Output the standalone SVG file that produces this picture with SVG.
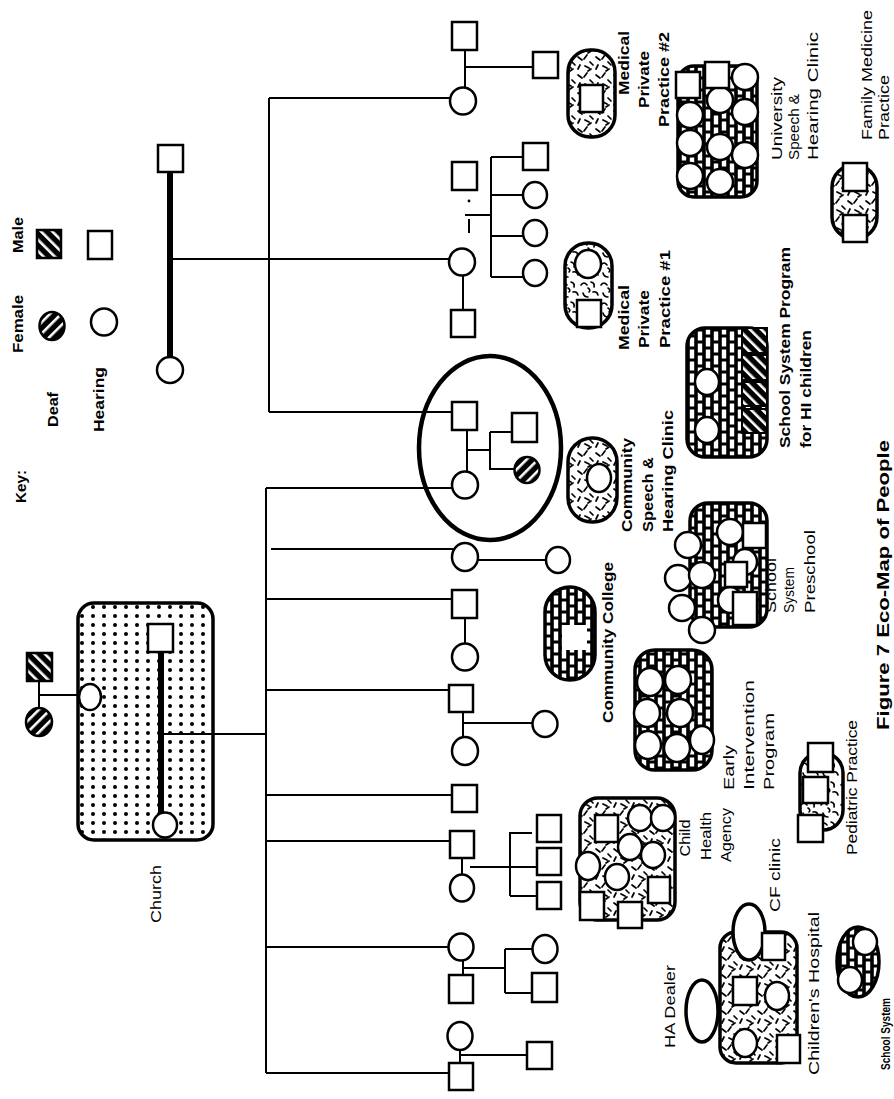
<svg xmlns="http://www.w3.org/2000/svg" width="894" height="1099" viewBox="0 0 894 1099">
<style>
.ln{stroke:#000;stroke-width:2;fill:none}
.th{stroke:#000;stroke-width:6;fill:none}
.p{fill:#fff;stroke:#000;stroke-width:2.5}
.blob{stroke:#000;stroke-width:3.5}
.t{font-family:"Liberation Sans",Arial,sans-serif;font-size:14px;fill:#000}
.b{font-weight:bold}
</style>
<defs>
<pattern id="dots" width="11" height="9" patternUnits="userSpaceOnUse"><rect width="11" height="9" fill="#fff"/><circle cx="5" cy="4" r="2" fill="#000"/></pattern>
<pattern id="brick" width="16" height="24" patternUnits="userSpaceOnUse"><rect width="16" height="24" fill="#000"/><g fill="#fff"><rect x="1.8" y="1.5" width="4.4" height="9"/><rect x="1.8" y="13.5" width="4.4" height="9"/><rect x="9.8" y="-4.5" width="4.4" height="9"/><rect x="9.8" y="7.5" width="4.4" height="9"/><rect x="9.8" y="19.5" width="4.4" height="9"/></g></pattern>
<pattern id="dash" width="18" height="18" patternUnits="userSpaceOnUse"><rect width="18" height="18" fill="#fff"/><path d="M2 3l4 3M11 1l-3 4M14 8l3 3M4 11l-2 4M9 12l4 2M15 15l-3 2" stroke="#000" stroke-width="1.7" stroke-linecap="round"/></pattern>
<pattern id="wavy" width="20" height="20" patternUnits="userSpaceOnUse"><rect width="20" height="20" fill="#fff"/><path d="M1 5q3-4 6 0M11 2q4 1 3 5M13 12q4-1 5 3M3 13q1 4 5 4M8 8q3 2 1 4" stroke="#000" stroke-width="1.6" fill="none" stroke-linecap="round"/></pattern>
<pattern id="hs" width="8" height="8" patternUnits="userSpaceOnUse" patternTransform="rotate(-45)"><rect width="8" height="8" fill="#000"/><rect width="2.6" height="8" fill="#fff"/></pattern>
<pattern id="hc" width="8" height="8" patternUnits="userSpaceOnUse" patternTransform="rotate(45)"><rect width="8" height="8" fill="#000"/><rect width="2.6" height="8" fill="#fff"/></pattern>
</defs>
<rect width="894" height="1099" fill="#fff"/>

<g id="connectors">
<line class="th" x1="170" y1="172" x2="170" y2="357"/>
<line class="ln" x1="170" y1="259" x2="450" y2="259"/>
<line class="ln" x1="269" y1="98" x2="269" y2="412"/>
<line class="ln" x1="269" y1="98" x2="450" y2="98"/>
<line class="ln" x1="269" y1="412" x2="452" y2="412"/>
<line class="ln" x1="465" y1="50" x2="465" y2="88"/>
<line class="ln" x1="465" y1="67" x2="533" y2="67"/>
<line class="ln" x1="463" y1="275" x2="463" y2="310"/>
<circle cx="469" cy="201" r="1.4" fill="#000"/>
<line class="ln" x1="469" y1="219" x2="469" y2="233"/>
<line class="ln" x1="465" y1="215" x2="491" y2="215"/>
<line class="ln" x1="491" y1="157" x2="491" y2="277"/>
<line class="ln" x1="491" y1="157" x2="523" y2="157"/>
<line class="ln" x1="491" y1="195" x2="523" y2="195"/>
<line class="ln" x1="491" y1="236" x2="523" y2="236"/>
<line class="ln" x1="491" y1="277" x2="523" y2="277"/>
<line class="ln" x1="467" y1="430" x2="467" y2="472"/>
<line class="ln" x1="467" y1="450" x2="490" y2="450"/>
<line class="ln" x1="490" y1="432" x2="490" y2="470"/>
<line class="ln" x1="490" y1="432" x2="512" y2="432"/>
<line class="ln" x1="490" y1="469" x2="514" y2="469"/>
<line class="ln" x1="266" y1="488" x2="266" y2="1073"/>
<line class="ln" x1="266" y1="488" x2="452" y2="488"/>
<line class="ln" x1="271" y1="549" x2="453" y2="549"/>
<line class="ln" x1="478" y1="560" x2="546" y2="560"/>
<line class="ln" x1="266" y1="599" x2="452" y2="599"/>
<line class="ln" x1="465" y1="618" x2="465" y2="644"/>
<line class="ln" x1="266" y1="690" x2="449" y2="690"/>
<line class="ln" x1="463" y1="712" x2="463" y2="738"/>
<line class="ln" x1="463" y1="723" x2="532" y2="723"/>
<line class="ln" x1="161" y1="734" x2="266" y2="734"/>
<line class="ln" x1="266" y1="795" x2="452" y2="795"/>
<line class="ln" x1="266" y1="841" x2="450" y2="841"/>
<line class="ln" x1="462" y1="858" x2="462" y2="875"/>
<line class="ln" x1="470" y1="867" x2="510" y2="867"/>
<line class="ln" x1="510" y1="833" x2="510" y2="896"/>
<line class="ln" x1="509" y1="833" x2="532" y2="833"/>
<line class="ln" x1="510" y1="867" x2="537" y2="867"/>
<line class="ln" x1="510" y1="896" x2="537" y2="896"/>
<line class="ln" x1="266" y1="947" x2="448" y2="947"/>
<line class="ln" x1="463" y1="960" x2="463" y2="975"/>
<line class="ln" x1="463" y1="968" x2="505" y2="968"/>
<line class="ln" x1="505" y1="949" x2="505" y2="993"/>
<line class="ln" x1="505" y1="949" x2="532" y2="949"/>
<line class="ln" x1="505" y1="993" x2="532" y2="993"/>
<line class="ln" x1="266" y1="1073" x2="449" y2="1073"/>
<line class="ln" x1="460" y1="1049" x2="460" y2="1063"/>
<line class="ln" x1="460" y1="1055" x2="527" y2="1055"/>
<line class="ln" x1="39" y1="681" x2="39" y2="709"/>
<line class="ln" x1="39" y1="695" x2="79" y2="695"/>
</g>

<g id="key">
<text class="t b" transform="translate(26,503) rotate(-90)" textLength="33" lengthAdjust="spacingAndGlyphs">Key:</text>
<text class="t b" transform="translate(58,427) rotate(-90)" textLength="35" lengthAdjust="spacingAndGlyphs">Deaf</text>
<text class="t b" transform="translate(104,432) rotate(-90)" textLength="65" lengthAdjust="spacingAndGlyphs">Hearing</text>
<text class="t b" transform="translate(23,353) rotate(-90)" textLength="58" lengthAdjust="spacingAndGlyphs">Female</text>
<text class="t b" transform="translate(23,253) rotate(-90)" textLength="36" lengthAdjust="spacingAndGlyphs">Male</text>
<rect x="37" y="230" width="24" height="28" fill="url(#hs)" stroke="#000" stroke-width="2.5"/>
<rect class="p" x="88" y="231" width="24" height="28"/>
<ellipse cx="52" cy="326" rx="12.5" ry="14" fill="url(#hc)" stroke="#000" stroke-width="2.5"/>
<ellipse class="p" cx="104" cy="322" rx="13" ry="13.5"/>
</g>

<g id="top-couple">
<rect class="p" x="158" y="145" width="25" height="27"/>
<ellipse class="p" cx="170" cy="370" rx="13" ry="13"/>
</g>
<g id="family-a1">
<ellipse class="p" cx="463" cy="101" rx="13" ry="13.5"/>
<rect class="p" x="452" y="22" width="25" height="28"/>
<rect class="p" x="533" y="52" width="25" height="26"/>
</g>
<g id="family-a2">
<ellipse class="p" cx="462" cy="262" rx="13" ry="13.5"/>
<rect class="p" x="452" y="162" width="25" height="28"/>
<rect class="p" x="451" y="310" width="24" height="27"/>
<rect class="p" x="523" y="143" width="25" height="27"/>
<ellipse class="p" cx="535" cy="195" rx="12" ry="13"/>
<ellipse class="p" cx="535" cy="233" rx="12" ry="13"/>
<ellipse class="p" cx="535" cy="273" rx="12" ry="13"/>
</g>
<g id="family-focus">
<ellipse cx="490" cy="448" rx="71" ry="92" fill="none" stroke="#000" stroke-width="4.5"/>
<rect class="p" x="452" y="402" width="25" height="28"/>
<ellipse class="p" cx="465" cy="485" rx="13" ry="13.5"/>
<rect class="p" x="512" y="413" width="25" height="29"/>
<ellipse cx="527" cy="470" rx="12.5" ry="13" fill="url(#hc)" stroke="#000" stroke-width="2.5"/>
</g>
<g id="family-b1">
<ellipse class="p" cx="465" cy="557" rx="13" ry="14"/>
<ellipse class="p" cx="558" cy="560" rx="12" ry="13"/>
</g>
<g id="family-b2">
<rect class="p" x="452" y="590" width="25" height="28"/>
<ellipse class="p" cx="465" cy="657" rx="13" ry="13.5"/>
</g>
<g id="family-b3">
<rect class="p" x="449" y="685" width="24" height="27"/>
<ellipse class="p" cx="465" cy="751" rx="13" ry="14"/>
<ellipse class="p" cx="545" cy="724" rx="12.5" ry="13"/>
</g>
<g id="family-b4">
<rect class="p" x="452" y="785" width="25" height="27"/>
</g>
<g id="family-b5">
<rect class="p" x="450" y="831" width="24" height="27"/>
<ellipse class="p" cx="462" cy="888" rx="12" ry="13.5"/>
<rect class="p" x="537" y="815" width="24" height="27"/>
<rect class="p" x="537" y="848" width="24" height="27"/>
<rect class="p" x="537" y="882" width="24" height="27"/>
</g>
<g id="family-b6">
<ellipse class="p" cx="461" cy="947" rx="12.5" ry="13.5"/>
<rect class="p" x="449" y="975" width="24" height="28"/>
<ellipse class="p" cx="545" cy="949" rx="12.5" ry="14"/>
<rect class="p" x="532" y="973" width="25" height="29"/>
</g>
<g id="family-b7">
<ellipse class="p" cx="460" cy="1036" rx="12.5" ry="14"/>
<rect class="p" x="449" y="1063" width="24" height="27"/>
<rect class="p" x="527" y="1042" width="25" height="27"/>
</g>

<g id="church">
<rect x="78" y="603" width="135" height="237" rx="16" fill="url(#dots)" stroke="#000" stroke-width="3.5"/>
<line class="th" x1="161" y1="652" x2="161" y2="813"/>
<line class="ln" x1="161" y1="734" x2="213" y2="734"/>
<rect class="p" x="148" y="624" width="25" height="28"/>
<ellipse class="p" cx="165" cy="825" rx="12" ry="12.5"/>
<text class="t" transform="translate(161,923) rotate(-90)" textLength="58" lengthAdjust="spacingAndGlyphs">Church</text>
</g>
<g id="church-parents">
<rect x="27" y="653" width="25" height="28" fill="url(#hs)" stroke="#000" stroke-width="2.5"/>
<ellipse cx="39" cy="722" rx="13" ry="14" fill="url(#hc)" stroke="#000" stroke-width="2.5"/>
<ellipse class="p" cx="90" cy="697" rx="11" ry="13"/>
</g>

<g id="medical-2">
<rect class="blob" x="568" y="50" width="47" height="87" rx="22" fill="url(#dash)"/>
<rect class="p" x="580" y="85" width="23" height="27"/>
<text class="t b" transform="translate(629,95) rotate(-90)" textLength="64" lengthAdjust="spacingAndGlyphs">Medical</text>
<text class="t b" transform="translate(649,108) rotate(-90)" textLength="57" lengthAdjust="spacingAndGlyphs">Private</text>
<text class="t b" transform="translate(669,127) rotate(-90)" textLength="95" lengthAdjust="spacingAndGlyphs">Practice #2</text>
</g>
<g id="university">
<rect class="blob" x="678" y="66" width="79" height="131" rx="16" fill="url(#brick)"/>
<ellipse class="p" cx="690" cy="115" rx="13" ry="13"/>
<ellipse class="p" cx="690" cy="143" rx="13" ry="13"/>
<ellipse class="p" cx="690" cy="176" rx="13" ry="13"/>
<ellipse class="p" cx="720" cy="100" rx="13" ry="13"/>
<ellipse class="p" cx="720" cy="147" rx="13" ry="13"/>
<ellipse class="p" cx="720" cy="182" rx="13" ry="13"/>
<ellipse class="p" cx="745" cy="77" rx="13" ry="13"/>
<ellipse class="p" cx="745" cy="112" rx="13" ry="13"/>
<ellipse class="p" cx="745" cy="155" rx="13" ry="13"/>
<rect class="p" x="676" y="72" width="24" height="26"/>
<rect class="p" x="705" y="62" width="24" height="26"/>
<text class="t" transform="translate(782,160) rotate(-90)" textLength="83" lengthAdjust="spacingAndGlyphs">University</text>
<text class="t" transform="translate(799,160) rotate(-90)" textLength="66" lengthAdjust="spacingAndGlyphs">Speech &amp;</text>
<text class="t" transform="translate(818,160) rotate(-90)" textLength="128" lengthAdjust="spacingAndGlyphs">Hearing Clinic</text>
</g>
<g id="family-medicine">
<rect class="blob" x="832" y="165" width="45" height="74" rx="22" fill="url(#dash)"/>
<rect class="p" x="843" y="163" width="24" height="28"/>
<rect class="p" x="843" y="215" width="24" height="27"/>
<text class="t" transform="translate(872,140) rotate(-90)" textLength="130" lengthAdjust="spacingAndGlyphs">Family Medicine</text>
<text class="t" transform="translate(889,140) rotate(-90)" textLength="65" lengthAdjust="spacingAndGlyphs">Practice</text>
</g>
<g id="medical-1">
<rect class="blob" x="565" y="243" width="47" height="85" rx="23" fill="url(#wavy)"/>
<ellipse class="p" cx="588" cy="264" rx="13" ry="14"/>
<rect class="p" x="577" y="300" width="24" height="27"/>
<text class="t b" transform="translate(629,350) rotate(-90)" textLength="65" lengthAdjust="spacingAndGlyphs">Medical</text>
<text class="t b" transform="translate(649,348) rotate(-90)" textLength="58" lengthAdjust="spacingAndGlyphs">Private</text>
<text class="t b" transform="translate(670,348) rotate(-90)" textLength="98" lengthAdjust="spacingAndGlyphs">Practice #1</text>
</g>
<g id="school-hi">
<rect class="blob" x="687" y="328" width="80" height="129" rx="18" fill="url(#brick)"/>
<ellipse class="p" cx="707" cy="382" rx="12" ry="13"/>
<ellipse class="p" cx="707" cy="430" rx="12" ry="13"/>
<rect x="742" y="328" width="25" height="25" fill="url(#hs)" stroke="#000" stroke-width="2"/>
<rect x="742" y="355" width="25" height="25" fill="url(#hs)" stroke="#000" stroke-width="2"/>
<rect x="742" y="382" width="25" height="24" fill="url(#hs)" stroke="#000" stroke-width="2"/>
<rect x="742" y="409" width="25" height="24" fill="url(#hs)" stroke="#000" stroke-width="2"/>
<text class="t b" transform="translate(790,448) rotate(-90)" textLength="201" lengthAdjust="spacingAndGlyphs">School System Program</text>
<text class="t b" transform="translate(811,448) rotate(-90)" textLength="118" lengthAdjust="spacingAndGlyphs">for HI children</text>
</g>
<g id="community-clinic">
<rect class="blob" x="568" y="438" width="49" height="84" rx="24" fill="url(#dash)"/>
<ellipse class="p" cx="599" cy="478" rx="12" ry="14"/>
<text class="t b" transform="translate(632,532) rotate(-90)" textLength="94" lengthAdjust="spacingAndGlyphs">Community</text>
<text class="t b" transform="translate(653,532) rotate(-90)" textLength="75" lengthAdjust="spacingAndGlyphs">Speech &amp;</text>
<text class="t b" transform="translate(673,532) rotate(-90)" textLength="122" lengthAdjust="spacingAndGlyphs">Hearing Clinic</text>
</g>
<g id="community-college">
<rect class="blob" x="545" y="587" width="50" height="93" rx="25" fill="url(#brick)"/>
<rect x="562" y="625" width="25" height="25" fill="#fff"/>
<text class="t b" transform="translate(613,723) rotate(-90)" textLength="161" lengthAdjust="spacingAndGlyphs">Community College</text>
</g>
<g id="preschool">
<rect class="blob" x="690" y="503" width="77" height="124" rx="18" fill="url(#brick)"/>
<ellipse class="p" cx="688" cy="545" rx="13" ry="13"/>
<ellipse class="p" cx="678" cy="578" rx="13" ry="13"/>
<ellipse class="p" cx="682" cy="608" rx="13" ry="13"/>
<ellipse class="p" cx="702" cy="630" rx="13" ry="13"/>
<ellipse class="p" cx="702" cy="575" rx="13" ry="13"/>
<ellipse class="p" cx="730" cy="532" rx="13" ry="13"/>
<ellipse class="p" cx="745" cy="562" rx="12" ry="13"/>
<ellipse class="p" cx="730" cy="600" rx="12" ry="13"/>
<rect class="p" x="743" y="523" width="23" height="25"/>
<rect class="p" x="725" y="562" width="22" height="25"/>
<rect class="p" x="733" y="592" width="24" height="33"/>
<text class="t" transform="translate(776,613) rotate(-90)" textLength="55" lengthAdjust="spacingAndGlyphs">School</text>
<text class="t" transform="translate(794,613) rotate(-90)" textLength="46" lengthAdjust="spacingAndGlyphs">System</text>
<text class="t" transform="translate(815,613) rotate(-90)" textLength="83" lengthAdjust="spacingAndGlyphs">Preschool</text>
</g>
<g id="early-intervention">
<rect class="blob" x="635" y="650" width="77" height="120" rx="20" fill="url(#brick)"/>
<ellipse class="p" cx="650" cy="682" rx="13" ry="14"/>
<ellipse class="p" cx="678" cy="680" rx="13" ry="14"/>
<ellipse class="p" cx="647" cy="713" rx="13" ry="14"/>
<ellipse class="p" cx="680" cy="713" rx="13" ry="14"/>
<ellipse class="p" cx="648" cy="745" rx="13" ry="14"/>
<ellipse class="p" cx="677" cy="748" rx="13" ry="14"/>
<ellipse class="p" cx="702" cy="740" rx="12" ry="14"/>
<text class="t" transform="translate(734,790) rotate(-90)" textLength="45" lengthAdjust="spacingAndGlyphs">Early</text>
<text class="t" transform="translate(754,790) rotate(-90)" textLength="110" lengthAdjust="spacingAndGlyphs">Intervention</text>
<text class="t" transform="translate(774,790) rotate(-90)" textLength="77" lengthAdjust="spacingAndGlyphs">Program</text>
</g>
<g id="child-health">
<rect class="blob" x="580" y="798" width="95" height="122" rx="18" fill="url(#dash)"/>
<ellipse class="p" cx="640" cy="818" rx="12" ry="13"/>
<ellipse class="p" cx="663" cy="818" rx="12" ry="13"/>
<ellipse class="p" cx="630" cy="847" rx="12" ry="13"/>
<ellipse class="p" cx="653" cy="855" rx="12" ry="13"/>
<ellipse class="p" cx="617" cy="877" rx="12" ry="13"/>
<ellipse class="p" cx="588" cy="866" rx="12" ry="14"/>
<rect class="p" x="595" y="815" width="23" height="27"/>
<rect class="p" x="648" y="877" width="22" height="26"/>
<rect class="p" x="618" y="902" width="24" height="26"/>
<rect class="p" x="580" y="892" width="24" height="28"/>
<text class="t" text-anchor="middle" transform="translate(690,838) rotate(-90)" textLength="37" lengthAdjust="spacingAndGlyphs">Child</text>
<text class="t" text-anchor="middle" transform="translate(711,836) rotate(-90)" textLength="48" lengthAdjust="spacingAndGlyphs">Health</text>
<text class="t" text-anchor="middle" transform="translate(731,835) rotate(-90)" textLength="54" lengthAdjust="spacingAndGlyphs">Agency</text>
</g>
<g id="pediatric">
<rect class="blob" x="800" y="753" width="43" height="77" rx="20" fill="url(#wavy)"/>
<rect class="p" x="808" y="743" width="25" height="29"/>
<rect class="p" x="803" y="777" width="25" height="26"/>
<rect class="p" x="798" y="815" width="25" height="27"/>
<text class="t" transform="translate(857,855) rotate(-90)" textLength="135" lengthAdjust="spacingAndGlyphs">Pediatric Practice</text>
</g>
<g id="childrens-hospital">
<rect class="blob" x="720" y="932" width="77" height="131" rx="16" fill="url(#dash)"/>
<ellipse cx="749" cy="932" rx="16" ry="28" fill="#fff" stroke="#000" stroke-width="3.5"/>
<rect class="p" x="762" y="933" width="23" height="27"/>
<rect class="p" x="733" y="977" width="24" height="28"/>
<ellipse class="p" cx="777" cy="996" rx="12" ry="14"/>
<ellipse class="p" cx="745" cy="1043" rx="12" ry="14"/>
<rect class="p" x="777" y="1035" width="23" height="28"/>
<text class="t" transform="translate(780,912) rotate(-90)" textLength="74" lengthAdjust="spacingAndGlyphs">CF clinic</text>
<text class="t" transform="translate(819,1075) rotate(-90)" textLength="163" lengthAdjust="spacingAndGlyphs">Children's Hospital</text>
</g>
<g id="ha-dealer">
<ellipse cx="702" cy="1011" rx="16" ry="31" fill="#fff" stroke="#000" stroke-width="3.5"/>
<text class="t" transform="translate(675,1048) rotate(-90)" textLength="83" lengthAdjust="spacingAndGlyphs">HA Dealer</text>
</g>
<g id="school-system">
<ellipse class="blob" cx="858" cy="962" rx="21" ry="35" fill="url(#brick)"/>
<ellipse class="p" cx="865" cy="942" rx="12" ry="13"/>
<ellipse class="p" cx="850" cy="980" rx="12" ry="13"/>
<text class="t b" style="font-size:12px" transform="translate(890,1070) rotate(-90)" textLength="72" lengthAdjust="spacingAndGlyphs">School System</text>
</g>
<g id="caption">
<text class="t b" style="font-size:17px" transform="translate(889,730) rotate(-90)" textLength="290" lengthAdjust="spacingAndGlyphs">Figure 7 Eco-Map of People</text>
</g>
</svg>
